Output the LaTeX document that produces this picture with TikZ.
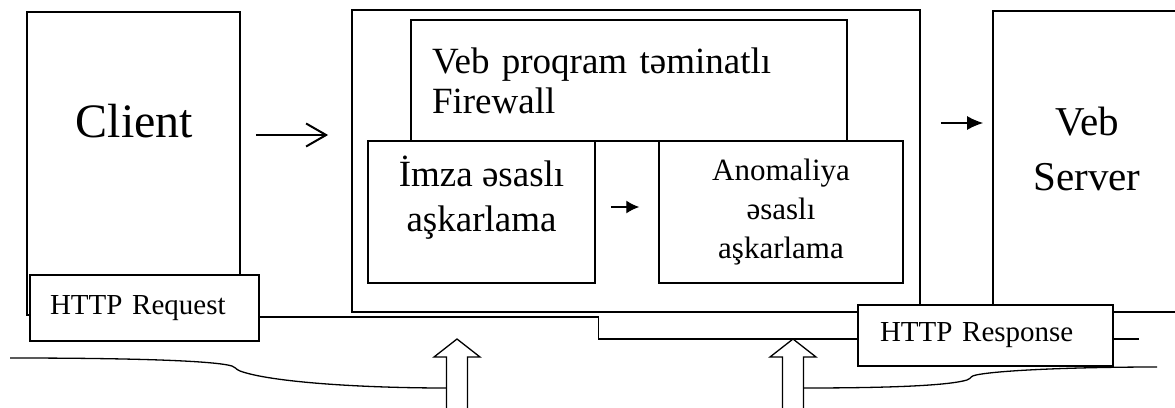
\documentclass[tikz,border=0pt]{standalone}
\usepackage{fontspec}
\setmainfont{Liberation Serif}
\usepackage{tikz}
\usetikzlibrary{shapes,arrows,arrows.meta,calc}
\tikzstyle{line} = [draw, line width=1.3pt]
\tikzstyle{block} = [draw, rectangle, fill=white, line width=1.8pt, inner sep=0pt]
\tikzstyle{part} = [block, line width=1.5pt]
\tikzstyle{httpbox} = [block, line width=1.3pt, inner xsep=20pt, align=left, font=\fontsize{29}{33}\selectfont]
\tikzstyle{bigarrow} = [draw, fill=white, line width=1.3pt]

\begin{document}
\begin{tikzpicture}[x=1pt, y=-1pt]
        \useasboundingbox (0,0) rectangle (1175,407);
        \clip (0,0) rectangle (1175,407);
        \node[block, minimum width=213pt, minimum height=303pt] (client) at (133.5,163.5) {};
        \node[block, minimum width=568pt, minimum height=302pt] (fw) at (636,161) {};
        \node[block, minimum width=188pt, minimum height=301pt] (server) at (1087,161.5) {};
        \node[part, minimum width=436pt, minimum height=121pt, text width=394pt, align=left, font=\fontsize{37}{40}\selectfont] (waf) at (629,80.5) {Veb proqram təminatlı\\Firewall};
        \node[part, minimum width=227pt, minimum height=142pt] (imza) at (481.5,212) {};
        \node[part, minimum width=244pt, minimum height=142pt] (anom) at (781,212) {};
        \node[httpbox, minimum width=229pt, minimum height=66pt, text width=189pt] (req) at (144.5,308) {HTTP Request};
        \node[httpbox, minimum width=255pt, minimum height=61pt, text width=211pt, inner xsep=22pt] (resp) at (985.5,335.5) {HTTP Response};
        \node[font=\fontsize{48}{55}\selectfont, anchor=base] (clientlbl) at ($(client.north)+(1,126)$) {Client};
        \node[font=\fontsize{37}{45}\selectfont, align=center] (imzalbl) at ($(imza.center)+(0,-14)$) {İmza əsaslı\\aşkarlama};
        \node[font=\fontsize{31}{39}\selectfont, align=center] (anomlbl) at (anom.center) {Anomaliya\\əsaslı\\aşkarlama};
        \node[font=\fontsize{41}{55}\selectfont, align=center] (serverlbl) at ($(server.center)+(0,-13)$) {Veb\\Server};
        \path[line, -{Straight Barb[length=20pt,width=23pt]}, line width=2pt, shorten <=15pt, shorten >=23pt] ([yshift=28.5pt]client.east) coordinate (a1) -- (a1 -| fw.west);
        \path[line, -{Latex[length=13pt,width=13pt]}, shorten <=15pt, shorten >=19pt] ([yshift=5pt]imza.east) coordinate (a2) -- (a2 -| anom.west);
        \path[line, -{Latex[length=16pt,width=14pt]}, shorten <=20pt, shorten >=9pt] ([yshift=38pt]fw.east) coordinate (a3) -- (a3 -| server.west);
        \path[line] ([yshift=-9pt]req.east) -- ++(339,0) |- ([yshift=-3.5pt]resp.west);
        \path[line] ([yshift=-3.5pt]resp.east) -- ++(25,0);
        \coordinate (upl) at (457,339);
        \coordinate (upr) at (793,339);
        \foreach \c in {upl,upr}
            \path[bigarrow] (\c) -- ++(23,18) -- ++(-12.5,0) -- ++(0,60) -- ++(-21,0) -- ++(0,-60) -- ++(-12.5,0) -- cycle;
        \coordinate (bl) at (10,358);
        \coordinate (br) at (1157,367);
        \path[line] (bl) .. controls (140,358) and (215,361) .. (232,366) .. controls (236,367) and (235,369) .. (240,371) .. controls (270,382) and (360,388) .. ($(upl)+(-10.5,49)$);
        \path[line] ($(upr)+(10.5,49)$) .. controls (900,388) and (950,385) .. (967,380) .. controls (972,378) and (970,376) .. (976,375) .. controls (1000,370) and (1080,367) .. (br);
    \end{tikzpicture}
\end{document}
